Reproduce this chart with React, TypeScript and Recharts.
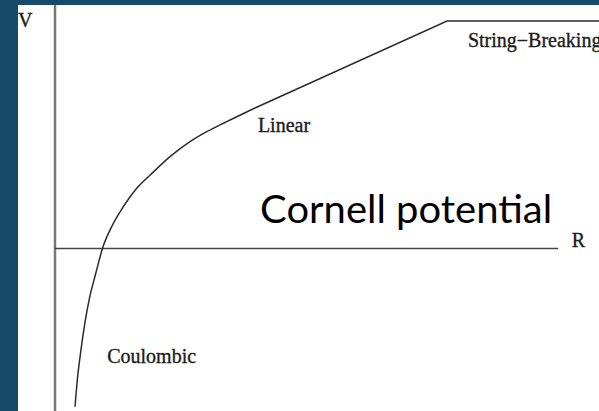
import { LineChart, Line, XAxis, YAxis, ReferenceLine, ReferenceDot } from 'recharts'

// Cornell potential sketch: V(R) = coulomb + linear, flattening at string breaking
const curveR = [0.368, 0.41, 0.469, 0.548, 0.64, 0.75, 0.875, 1.057, 1.256, 1.502, 1.755, 2.114, 2.482, 2.789, 3.156, 3.676]
const curveV = [-3.894, -3.236, -2.579, -1.84, -1.185, -0.608, 0.015, 0.581, 1.032, 1.485, 1.818, 2.264, 2.633, 2.879, 3.126, 3.463]
const linearR = [3.676, 7.206, 10]
const linearV = [3.463, 5.606, 5.606]

const labelText = ['V', 'R', 'String\u2212Breaking', 'Linear', 'Coulombic', 'Cornell potential']
const labelR = [-0.68, 9.5, 7.59, 3.73, 0.96, 3.77]
const labelV = [5.46, 0.04, 4.97, 2.87, -2.82, 0.63]

const curveData = curveR.map((r, i) => ({ r, v: curveV[i] }))
const linearData = linearR.map((r, i) => ({ r, v: linearV[i] }))

const BG = '#17496a'
const INK = '#2a2a2a'

function textLabel(text: string) {
  const big = text === 'Cornell potential'
  return (props: any) => {
    const { x, y } = props.viewBox
    if (big) {
      return (
        <text x={x} y={y} fontFamily="Lato, 'Open Sans', sans-serif" fontSize={39} fill="#000"
          textLength={292} lengthAdjust="spacingAndGlyphs">
          {text}
        </text>
      )
    }
    return (
      <text x={x} y={y} fontFamily="'Liberation Serif', 'DejaVu Serif', serif" fontSize={20}
        fill="#1c1c1c" stroke="#1c1c1c" strokeWidth={0.35}>
        {text}
      </text>
    )
  }
}

export default function App() {
  return (
    <div style={{ position: 'absolute', left: 0, top: 0, width: 599, height: 411, background: BG, overflow: 'hidden' }}>
      <div style={{ position: 'absolute', left: 18, top: 5, width: 581, height: 406, background: '#fff' }} />
      <div style={{ position: 'absolute', left: 0, top: 0 }}>
        <LineChart width={599} height={411} margin={{ top: 5, right: 0, bottom: 0, left: 55 }}>
          <XAxis type="number" dataKey="r" domain={[0, 10]} hide allowDataOverflow />
          <YAxis type="number" dataKey="v" domain={[-4, 6]} hide allowDataOverflow />
          <ReferenceLine x={0} stroke="#777" strokeWidth={2.5} ifOverflow="visible" />
          <ReferenceLine
            segment={[{ x: 0, y: 0 }, { x: 9.25, y: 0 }]}
            stroke="#444"
            strokeWidth={1.5}
          />
          <Line data={curveData} dataKey="v" type="monotone" stroke={INK} strokeWidth={1.5}
            dot={false} activeDot={false} isAnimationActive={false} />
          <Line data={linearData} dataKey="v" type="linear" stroke={INK} strokeWidth={1.5}
            dot={false} activeDot={false} isAnimationActive={false} />
          {labelText.map((t, i) => (
            <ReferenceDot key={t} x={labelR[i]} y={labelV[i]} r={0} fill="none" stroke="none"
              ifOverflow="visible" label={textLabel(t)} />
          ))}
        </LineChart>
      </div>
    </div>
  )
}
